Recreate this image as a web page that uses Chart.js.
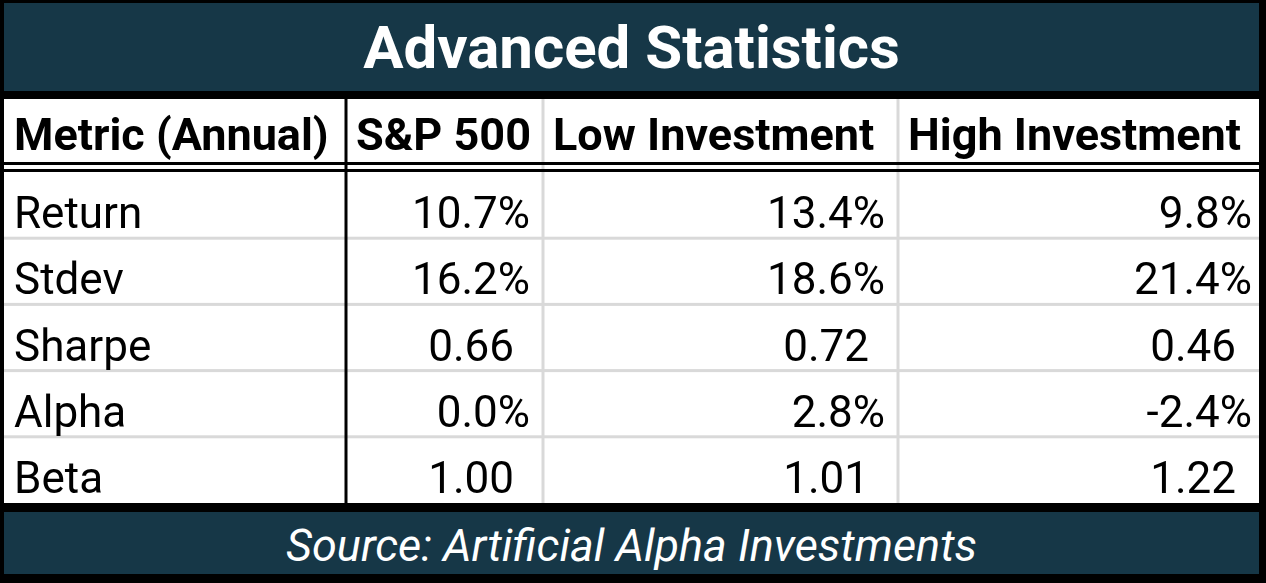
<!DOCTYPE html>
<html lang="en">
<head>
    <meta charset="UTF-8">
    <title>Advanced Statistics</title>
    <script src="https://cdn.jsdelivr.net/npm/chart.js"></script>
    <style>
        html, body {
            margin: 0;
            padding: 0;
            background: #000;
            font-family: Roboto, 'Liberation Sans', sans-serif;
        }
        .frame {
            position: relative;
            width: 1266px;
            height: 583px;
            background: #000;
            overflow: hidden;
        }
        .band {
            position: absolute;
            left: 4px;
            width: 1255px;
            background: #163747;
            color: #fff;
            text-align: center;
        }
        .title {
            top: 3px;
            height: 88px;
            line-height: 90px;
            font-size: 60px;
            font-weight: 700;
        }
        .source {
            top: 512px;
            height: 62px;
            line-height: 68px;
            font-size: 45px;
            font-style: italic;
        }
        .table-wrap {
            position: absolute;
            left: 4px;
            top: 99px;
            width: 1255px;
            height: 404px;
        }
    </style>
</head>
<body>
    <div class="frame">
        <div class="band title">Advanced Statistics</div>
        <div class="table-wrap"><canvas id="statsTable"></canvas></div>
        <div class="band source">Source: Artificial Alpha Investments</div>
    </div>

    <script>
        // table data
        const columns = ['Metric (Annual)', 'S&P 500', 'Low Investment', 'High Investment'];
        const metrics = ['Return', 'Stdev', 'Sharpe', 'Alpha', 'Beta'];
        const rowFormats = ['pct', 'pct', 'num', 'pct', 'num'];
        const sp500 = [10.7, 16.2, 0.66, 0.0, 1.00];
        const lowInvestment = [13.4, 18.6, 0.72, 2.8, 1.01];
        const highInvestment = [9.8, 21.4, 0.46, -2.4, 1.22];

        // layout (column widths in px, right insets per value column)
        const colWidths = [342, 197, 355, 361];
        const rightInset = [13, 13, 7];
        const numPad = 16;

        function fmt(v, kind) {
            return kind === 'pct' ? v.toFixed(1) + '%' : v.toFixed(2);
        }

        const tablePlugin = {
            id: 'tableCells',
            beforeDraw(chart) {
                const { ctx, chartArea, scales: { x, y } } = chart;
                const series = [sp500, lowInvestment, highInvestment];
                const edges = [0];
                colWidths.forEach(w => edges.push(edges[edges.length - 1] + w));
                const px = edges.map(v => x.getPixelForValue(v));
                const band = y.getPixelForValue(1) - y.getPixelForValue(0);
                const top = chartArea.top;
                const bottom = chartArea.bottom;

                ctx.save();
                ctx.fillStyle = '#fff';
                ctx.fillRect(0, 0, chart.width, chart.height);

                // light row separators
                ctx.fillStyle = '#d9d9d9';
                for (let i = 1; i < metrics.length; i++) {
                    const yy = y.getPixelForValue(i) - band / 2;
                    ctx.fillRect(px[0], yy - 1.5, px[px.length - 1] - px[0], 3);
                }
                // light column separators
                ctx.fillRect(px[2] - 1.5, 0, 3, bottom);
                ctx.fillRect(px[3] - 1.5, 0, 3, bottom);

                // black separators
                ctx.fillStyle = '#000';
                ctx.fillRect(px[1] - 1.5, 0, 3, bottom);
                ctx.fillRect(0, top - 10, chart.width, 3);
                ctx.fillRect(0, top - 3, chart.width, 3);

                // header
                ctx.fillStyle = '#000';
                ctx.textBaseline = 'alphabetic';
                ctx.textAlign = 'left';
                ctx.font = '700 45px Roboto';
                columns.forEach((c, i) => {
                    ctx.fillText(c, px[i] + 10, top - 22);
                });

                // body
                ctx.font = '400 44px Roboto';
                metrics.forEach((m, r) => {
                    const base = y.getPixelForValue(r) + band / 2 - 10;
                    ctx.textAlign = 'left';
                    ctx.fillText(m, px[0] + 10, base);
                    ctx.textAlign = 'right';
                    series.forEach((s, c) => {
                        const pad = rowFormats[r] === 'num' ? numPad : 0;
                        ctx.fillText(fmt(s[r], rowFormats[r]), px[c + 2] - rightInset[c] - pad, base);
                    });
                });
                ctx.restore();
            }
        };

        new Chart(document.getElementById('statsTable'), {
            type: 'scatter',
            data: {
                labels: metrics,
                datasets: []
            },
            options: {
                responsive: true,
                maintainAspectRatio: false,
                animation: false,
                layout: {
                    padding: { top: 73, left: 0, right: 0, bottom: 0 }
                },
                plugins: {
                    legend: { display: false },
                    tooltip: { enabled: false }
                },
                scales: {
                    x: {
                        type: 'linear',
                        display: false,
                        min: 0,
                        max: colWidths.reduce((a, b) => a + b, 0)
                    },
                    y: {
                        type: 'category',
                        display: false,
                        offset: true,
                        labels: metrics
                    }
                }
            },
            plugins: [tablePlugin]
        });
    </script>
</body>
</html>
